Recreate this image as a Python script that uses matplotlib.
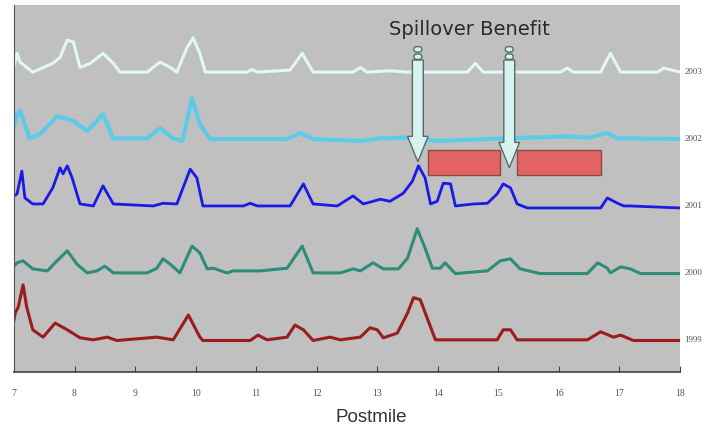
import matplotlib
matplotlib.use("Agg")
import matplotlib.pyplot as plt
from matplotlib.patches import FancyArrow, Rectangle, FancyBboxPatch

# postmile / height-above-baseline pairs per year (height in units of row spacing)
pm_2003 = [7.00, 7.05, 7.10, 7.31, 7.64, 7.76, 7.88, 7.98, 8.09, 8.26, 8.47, 8.64, 8.75, 9.20, 9.41,
           9.58, 9.69, 9.86, 9.96, 10.07, 10.16, 10.85, 10.93, 11.02, 11.56, 11.76, 11.94, 12.60,
           12.72, 12.83, 13.20, 13.50, 14.49, 14.62, 14.75, 16.02, 16.14, 16.24, 16.69, 16.85,
           17.02, 17.63, 17.73, 18.00]
h_2003 = [0.10, 0.28, 0.15, 0.00, 0.13, 0.22, 0.48, 0.45, 0.07, 0.13, 0.28, 0.13, 0.00, 0.00, 0.15,
          0.07, 0.00, 0.37, 0.51, 0.28, 0.00, 0.00, 0.04, 0.00, 0.03, 0.28, 0.00, 0.00,
          0.07, 0.00, 0.02, 0.00, 0.00, 0.13, 0.00, 0.00, 0.06, 0.00, 0.00, 0.28,
          0.00, 0.00, 0.06, 0.00]

pm_2002 = [7.00, 7.05, 7.10, 7.26, 7.43, 7.71, 7.88, 7.98, 8.21, 8.47, 8.64, 9.20, 9.41, 9.63, 9.78,
           9.94, 10.07, 10.24, 11.51, 11.73, 11.94, 12.72, 13.05, 13.50, 13.99, 14.82, 16.14,
           16.50, 16.80, 16.97, 18.00]
h_2002 = [0.19, 0.37, 0.42, 0.01, 0.07, 0.34, 0.30, 0.27, 0.12, 0.37, 0.01, 0.01, 0.16, 0.01, -0.03,
          0.61, 0.22, 0.00, 0.00, 0.09, 0.00, -0.03, 0.01, 0.02, -0.03, 0.00, 0.04,
          0.02, 0.09, 0.01, 0.00]

pm_2001 = [7.00, 7.05, 7.13, 7.18, 7.31, 7.48, 7.64, 7.76, 7.81, 7.88, 7.96, 8.09, 8.31, 8.47, 8.64,
           9.30, 9.46, 9.69, 9.91, 10.02, 10.12, 10.79, 10.90, 11.02, 11.56, 11.78, 11.94, 12.34,
           12.60, 12.77, 13.05, 13.21, 13.43, 13.58, 13.68, 13.79, 13.88, 13.99, 14.09, 14.21,
           14.29, 14.59, 14.82, 14.98, 15.08, 15.20, 15.31, 15.48, 16.69, 16.80, 16.97, 17.07,
           17.18, 18.00]
h_2001 = [0.15, 0.18, 0.52, 0.12, 0.03, 0.03, 0.27, 0.57, 0.48, 0.60, 0.42, 0.03, 0.00, 0.30, 0.03,
          0.00, 0.04, 0.03, 0.55, 0.42, 0.00, 0.00, 0.04, 0.00, 0.00, 0.33, 0.03, 0.00,
          0.15, 0.03, 0.10, 0.07, 0.19, 0.37, 0.60, 0.42, 0.03, 0.07, 0.34, 0.33,
          0.00, 0.03, 0.04, 0.18, 0.33, 0.27, 0.03, -0.03, -0.03, 0.12, 0.04, 0.00,
          0.00, -0.03]

pm_2000 = [7.00, 7.05, 7.15, 7.31, 7.55, 7.71, 7.88, 8.04, 8.21, 8.37, 8.50, 8.64, 9.20, 9.36, 9.46,
           9.58, 9.74, 9.94, 10.07, 10.19, 10.29, 10.52, 10.62, 11.07, 11.51, 11.76, 11.94, 12.39,
           12.60, 12.72, 12.93, 13.10, 13.35, 13.50, 13.66, 13.79, 13.91, 14.04, 14.12, 14.29,
           14.82, 15.03, 15.20, 15.36, 15.69, 16.47, 16.64, 16.80, 16.85, 17.02, 17.18, 17.35, 18.00]
h_2000 = [0.10, 0.15, 0.18, 0.06, 0.03, 0.18, 0.33, 0.13, 0.00, 0.03, 0.10, 0.00, 0.00, 0.07, 0.21,
          0.13, 0.00, 0.40, 0.30, 0.06, 0.07, 0.00, 0.03, 0.03, 0.07, 0.40, 0.00, 0.00,
          0.06, 0.03, 0.15, 0.06, 0.06, 0.22, 0.66, 0.37, 0.07, 0.07, 0.15, -0.01,
          0.03, 0.18, 0.21, 0.06, -0.01, -0.01, 0.15, 0.07, 0.00, 0.09, 0.06, -0.01, -0.01]

pm_1999 = [7.00, 7.02, 7.07, 7.15, 7.21, 7.31, 7.48, 7.68, 7.88, 8.09, 8.31, 8.54, 8.70, 9.36, 9.63,
           9.88, 10.07, 10.12, 10.90, 11.03, 11.18, 11.51, 11.64, 11.78, 11.94, 12.22, 12.39,
           12.72, 12.88, 13.00, 13.10, 13.33, 13.50, 13.60, 13.71, 13.96, 14.98, 15.08, 15.20,
           15.31, 16.47, 16.69, 16.90, 17.02, 17.23, 18.00]
h_1999 = [0.30, 0.40, 0.49, 0.82, 0.49, 0.15, 0.04, 0.25, 0.15, 0.03, 0.00, 0.04, -0.01, 0.04, 0.00,
          0.37, 0.04, -0.01, -0.01, 0.07, 0.00, 0.04, 0.22, 0.15, -0.01, 0.04, 0.00,
          0.04, 0.18, 0.15, 0.03, 0.10, 0.40, 0.63, 0.60, 0.00, 0.00, 0.15, 0.15,
          0.00, 0.00, 0.12, 0.04, 0.07, -0.01, -0.01]

years = ["1999", "2000", "2001", "2002", "2003"]
postmiles = [pm_1999, pm_2000, pm_2001, pm_2002, pm_2003]
heights = [h_1999, h_2000, h_2001, h_2002, h_2003]
colors = ["#9b1c1c", "#2e8c7a", "#1a1ae6", "#5ccbe8", "#e2f8f3"]
widths = [2.2, 2.2, 2.0, 3.0, 2.2]

# spillover arrows (postmile, tip level) and congestion boxes (start, end)
arrow_pm = [13.67, 15.18]
arrow_tip = [2.66, 2.57]
boxes = [(13.83, 15.03), (15.31, 16.69)]

fig = plt.figure(figsize=(7.07, 4.30), dpi=100)
ax = fig.add_axes([0.0198, 0.135, 0.942, 0.853])
ax.set_facecolor("#c0c0c0")

for i, year in enumerate(years):
    ys = [i + v for v in heights[i]]
    ax.plot(postmiles[i], ys, color=colors[i], lw=widths[i], solid_joinstyle="round")
    ax.text(18.07, i, year, fontsize=6.5, family="Liberation Serif", color="#555555",
            va="center", ha="left")

for x, tip in zip(arrow_pm, arrow_tip):
    top = 4.18
    arr = FancyArrow(x, top, 0, tip - top, width=0.18, head_width=0.34, head_length=0.38,
                     length_includes_head=True, facecolor="#d6f3ef", edgecolor="#5a6a6a",
                     lw=1.0, zorder=5)
    ax.add_patch(arr)
    for yb in (4.19, 4.30):
        ax.add_patch(FancyBboxPatch((x - 0.065, yb), 0.13, 0.08,
                                    boxstyle="round,pad=0.0,rounding_size=0.04",
                                    facecolor="#d6f3ef", edgecolor="#5a6a6a", lw=1.0,
                                    zorder=5))

for x0, x1 in boxes:
    ax.add_patch(Rectangle((x0, 2.46), x1 - x0, 0.38, facecolor="#e46464",
                           edgecolor="#8a4a4a", lw=1.0, zorder=4))

ax.text(14.52, 4.64, "Spillover Benefit", fontsize=14, family="DejaVu Sans",
        color="#2a2a2a", ha="center", va="center")

ax.set_xlim(7, 18)
ax.set_ylim(-0.48, 5.0)
ax.set_xticks(range(7, 19))
ax.set_xticklabels([str(t) for t in range(7, 19)], family="Liberation Serif",
                   fontsize=7, color="#555555")
ax.tick_params(axis="x", direction="in", length=4, pad=12, color="#444444")
ax.set_yticks([])
for s in ["top", "right"]:
    ax.spines[s].set_visible(False)
ax.spines["bottom"].set_color("#444444")
ax.spines["left"].set_color("#555555")
ax.spines["bottom"].set_linewidth(1.2)

ax.set_xlabel("Postmile", family="Liberation Sans", fontsize=13.5, color="#333333")
ax.xaxis.set_label_coords(0.536, -0.1)

fig.savefig("out.png", dpi=100)
